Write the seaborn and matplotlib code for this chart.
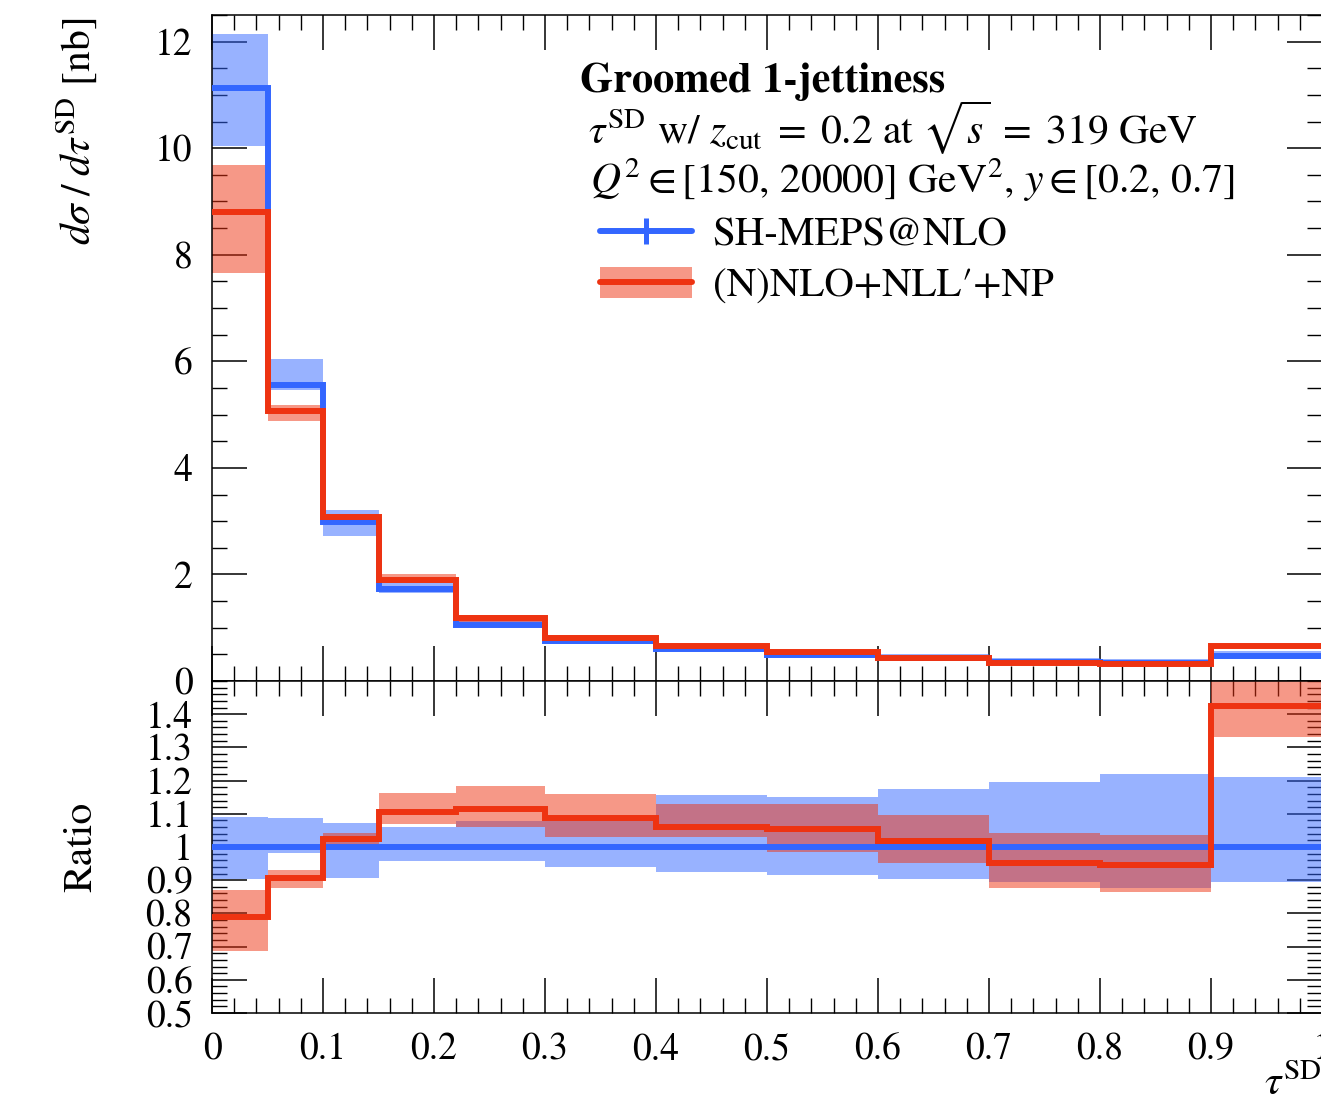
import numpy as np
import pandas as pd
import matplotlib
matplotlib.use("Agg")
import matplotlib.pyplot as plt
import seaborn as sns
from matplotlib.ticker import MultipleLocator, FixedLocator, FixedFormatter
from matplotlib.lines import Line2D
from matplotlib.patches import Patch
from matplotlib.legend_handler import HandlerTuple

# ---------------- data ----------------
bin_edges = [0.0, 0.05, 0.1, 0.15, 0.22, 0.3, 0.4, 0.5, 0.6, 0.7, 0.8, 0.9, 1.0]

# differential cross sections [nb]
sherpa_vals = [11.13, 5.56, 2.99, 1.73, 1.05, 0.745, 0.60, 0.49, 0.43, 0.355, 0.34, 0.46]
resum_vals = [8.81, 5.07, 3.08, 1.90, 1.18, 0.81, 0.65, 0.54, 0.44, 0.34, 0.32, 0.65]

# ratio-panel values (relative to SH-MEPS@NLO)
sherpa_ratio_lo = [0.903, 0.981, 0.908, 0.959, 0.958, 0.941, 0.924, 0.916, 0.903, 0.894, 0.878, 0.894]
sherpa_ratio_hi = [1.091, 1.086, 1.073, 1.061, 1.078, 1.081, 1.157, 1.152, 1.174, 1.195, 1.219, 1.212]
resum_ratio = [0.788, 0.906, 1.023, 1.106, 1.114, 1.086, 1.061, 1.055, 1.018, 0.951, 0.945, 1.425]
resum_ratio_lo = [0.688, 0.876, 0.995, 1.068, 1.061, 1.029, 1.031, 0.985, 0.951, 0.877, 0.864, 1.332]
resum_ratio_hi = [0.870, 0.931, 1.041, 1.164, 1.184, 1.160, 1.131, 1.130, 1.096, 1.041, 1.036, 1.500]

x_tick_vals = [0.0, 0.1, 0.2, 0.3, 0.4, 0.5, 0.6, 0.7, 0.8, 0.9, 1.0]
x_tick_labels = ["0", "0.1", "0.2", "0.3", "0.4", "0.5", "0.6", "0.7", "0.8", "0.9", "1"]
main_y_ticks = [0, 2, 4, 6, 8, 10, 12]
ratio_y_ticks = [0.5, 0.6, 0.7, 0.8, 0.9, 1.0, 1.1, 1.2, 1.3, 1.4]
ratio_y_labels = ["0.5", "0.6", "0.7", "0.8", "0.9", "1", "1.1", "1.2", "1.3", "1.4"]

label_sherpa = "SH-MEPS@NLO"
label_resum = "(N)NLO+NLL\u2032+NP"

# ---------------- style ----------------
sns.set_theme(style="ticks")
plt.rcParams.update({
    "font.family": ["STIXGeneral", "DejaVu Serif"],
    "mathtext.fontset": "stix",
    "axes.edgecolor": "black",
    "axes.linewidth": 1.1,
    "xtick.color": "black",
    "ytick.color": "black",
    "text.color": "black",
    "axes.labelcolor": "black",
})

BLUE = "#3366FF"
RED = "#EE3311"
LW = 4.3

W, H = 1321, 1102
fig = plt.figure(figsize=(W / 100, H / 100), dpi=100)
ax = fig.add_axes([212 / W, 1 - 681 / H, 1110 / W, 666 / H])
axr = fig.add_axes([212 / W, 1 - 1013 / H, 1110 / W, 332 / H])

edges = np.array(bin_edges)
def ext(a):
    a = np.asarray(a, dtype=float)
    return np.append(a, a[-1])

sh = np.array(sherpa_vals)
rs = np.array(resum_vals)

# ---------------- main panel ----------------
ax.fill_between(edges, ext(sh * np.array(sherpa_ratio_lo)), ext(sh * np.array(sherpa_ratio_hi)),
                step="post", color=BLUE, alpha=0.5, lw=0, zorder=1)
ax.fill_between(edges, ext(sh * np.array(resum_ratio_lo)), ext(sh * np.array(resum_ratio_hi)),
                step="post", color=RED, alpha=0.5, lw=0, zorder=2)
df_main = pd.DataFrame({"x": edges, "sherpa": ext(sh), "resum": ext(rs)})
sns.lineplot(data=df_main, x="x", y="sherpa", ax=ax, color=BLUE, lw=LW, drawstyle="steps-post",
             sort=False, errorbar=None, zorder=3, solid_joinstyle="miter")
sns.lineplot(data=df_main, x="x", y="resum", ax=ax, color=RED, lw=LW, drawstyle="steps-post",
             sort=False, errorbar=None, zorder=4, solid_joinstyle="miter")

ax.set_xlim(0, 1)
ax.set_ylim(0, 12.5)
ax.xaxis.set_major_locator(FixedLocator(x_tick_vals))
ax.xaxis.set_minor_locator(MultipleLocator(0.02))
ax.yaxis.set_major_locator(FixedLocator(main_y_ticks))
ax.yaxis.set_minor_locator(MultipleLocator(0.5))
ax.set_xlabel("")
ax.set_ylabel(r"$d\sigma\;/\;d\tau^{\mathrm{SD}}$ [nb]", fontsize=30, loc="top")
ax.yaxis.set_label_coords(-0.101, 0.996)

# ---------------- ratio panel ----------------
axr.fill_between(edges, ext(sherpa_ratio_lo), ext(sherpa_ratio_hi),
                 step="post", color=BLUE, alpha=0.5, lw=0, zorder=1)
axr.fill_between(edges, ext(resum_ratio_lo), ext(resum_ratio_hi),
                 step="post", color=RED, alpha=0.5, lw=0, zorder=2)
df_ratio = pd.DataFrame({"x": edges, "sherpa": ext(sh / sh), "resum": ext(resum_ratio)})
sns.lineplot(data=df_ratio, x="x", y="sherpa", ax=axr, color=BLUE, lw=LW, drawstyle="steps-post",
             sort=False, errorbar=None, zorder=3, solid_joinstyle="miter")
sns.lineplot(data=df_ratio, x="x", y="resum", ax=axr, color=RED, lw=LW, drawstyle="steps-post",
             sort=False, errorbar=None, zorder=4, solid_joinstyle="miter")

axr.set_xlim(0, 1)
axr.set_ylim(0.5, 1.5)
axr.xaxis.set_major_locator(FixedLocator(x_tick_vals))
axr.xaxis.set_major_formatter(FixedFormatter(x_tick_labels))
axr.xaxis.set_minor_locator(MultipleLocator(0.02))
axr.yaxis.set_major_locator(FixedLocator(ratio_y_ticks))
axr.yaxis.set_major_formatter(FixedFormatter(ratio_y_labels))
axr.yaxis.set_minor_locator(MultipleLocator(0.02))
axr.set_ylabel("Ratio", fontsize=30)
axr.yaxis.set_label_coords(-0.101, 0.5)
axr.set_xlabel(r"$\tau^{\mathrm{SD}}$", fontsize=30, loc="right")
axr.xaxis.set_label_coords(1.0, -0.157)

for a in (ax, axr):
    a.tick_params(which="both", direction="in", top=True, right=True, bottom=True, left=True)
    a.tick_params(which="major", length=25, width=1.1, labelsize=27)
    a.tick_params(which="minor", length=11, width=1.0)
    a.tick_params(axis="y", pad=14)
    a.tick_params(axis="x", pad=14)
    for s in a.spines.values():
        s.set_visible(True)
        s.set_linewidth(1.1)
ax.tick_params(labelbottom=False)

# ---------------- annotations & legend ----------------
ax.text(0.3315, 0.884, "Groomed 1-jettiness", transform=ax.transAxes, fontsize=30.5,
        fontweight="bold", va="baseline", ha="left")
ax.text(0.3387, 0.806,
        r"$\tau^{\mathrm{SD}}$ w/ $z_{\mathrm{cut}} \;=\; 0.2$ at $\sqrt{s} \;=\; 319$ GeV",
        transform=ax.transAxes, fontsize=30, va="baseline", ha="left")
ax.text(0.3405, 0.733, r"$Q^2 \in [150,\, 20000]$ GeV$^2$, $y \in [0.2,\, 0.7]$",
        transform=ax.transAxes, fontsize=30, va="baseline", ha="left")

h_sherpa = Line2D([], [], color=BLUE, lw=LW, marker="|", markersize=19, markeredgewidth=3.6)
h_resum = (Patch(facecolor=RED, alpha=0.5, edgecolor="none"), Line2D([], [], color=RED, lw=LW))
ax.legend([h_sherpa, h_resum], [label_sherpa, label_resum],
          handler_map={tuple: HandlerTuple(ndivide=1, pad=0)},
          loc="upper left", bbox_to_anchor=(0.3495, 0.698), frameon=False,
          fontsize=29.5, borderpad=0, borderaxespad=0, handlelength=2.25,
          handletextpad=0.5, handleheight=0.78, labelspacing=0.3)

fig.savefig("out.png", dpi=100)
